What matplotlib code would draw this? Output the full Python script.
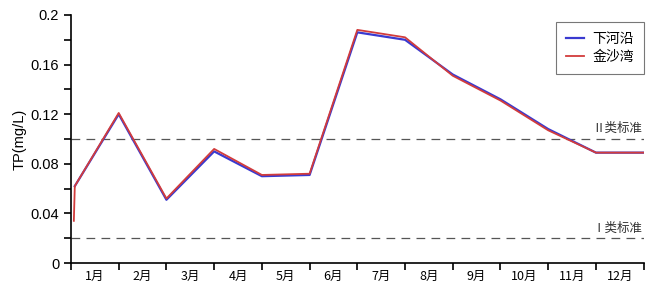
import numpy as np
import matplotlib.pyplot as plt
from matplotlib.ticker import MultipleLocator

plt.rcParams['font.family'] = ['Noto Sans CJK SC', 'DejaVu Sans']

months = ['1月', '2月', '3月', '4月', '5月', '6月', '7月', '8月', '9月', '10月', '11月', '12月']

# sampling positions along the month axis
x_blue = [0.08, 1, 2, 3, 4, 5, 6, 7, 8, 9, 10, 11, 12]
tp_xiaheyan = [0.062, 0.120, 0.051, 0.090, 0.070, 0.071, 0.186, 0.180, 0.152, 0.132, 0.108, 0.089, 0.089]
x_red = [0.06, 0.08, 1, 2, 3, 4, 5, 6, 7, 8, 9, 10, 11, 12]
tp_jinshawan = [0.034, 0.062, 0.121, 0.052, 0.092, 0.071, 0.072, 0.188, 0.182, 0.151, 0.131, 0.107, 0.089, 0.089]

class2 = 0.1
class1 = 0.02

fig = plt.figure(figsize=(6.53, 2.86), dpi=100)
ax = fig.add_axes([0.1087, 0.0804, 0.877, 0.8672])

ax.axhline(class2, color='#555555', lw=0.9, dashes=(7, 5))
ax.axhline(class1, color='#555555', lw=0.9, dashes=(7, 5))
ax.text(11.98, class2 + 0.003, 'Ⅱ类标准', ha='right', va='bottom', fontsize=9, color='#333333')
ax.text(11.98, class1 + 0.003, 'Ⅰ类标准', ha='right', va='bottom', fontsize=9, color='#333333')

ax.plot(x_blue, tp_xiaheyan, color='#3a3ad0', lw=1.6, label='下河沿')
ax.plot(x_red, tp_jinshawan, color='#d23c3c', lw=1.3, label='金沙湾')

ax.set_xlim(0, 12)
ax.set_ylim(0, 0.2)
ax.set_yticks([0, 0.04, 0.08, 0.12, 0.16, 0.2])
ax.set_yticklabels(['0', '0.04', '0.08', '0.12', '0.16', '0.2'], family='Liberation Sans')
ax.yaxis.set_minor_locator(MultipleLocator(0.02))
ax.set_xticks(np.arange(0, 13))
ax.set_xticklabels([])
ax.set_xticks(np.arange(12) + 0.5, minor=True)
ax.set_xticklabels(months, minor=True)
ax.tick_params(axis='x', which='minor', length=0, pad=5, labelsize=9)
ax.tick_params(axis='x', which='major', length=5, width=1.2, direction='out')
ax.tick_params(axis='y', which='both', length=5, width=1.2, direction='out', labelsize=10.5)
ax.set_ylabel('TP(mg/L)', fontsize=10.5, labelpad=3, family='Liberation Sans')

for s in ['top', 'right']:
    ax.spines[s].set_visible(False)
for s in ['left', 'bottom']:
    ax.spines[s].set_linewidth(1.2)

leg = ax.legend(loc='upper right', bbox_to_anchor=(1.012, 1.0), fontsize=10, frameon=True,
                fancybox=False, edgecolor='#555555', handlelength=1.3, borderpad=0.7,
                labelspacing=0.3, handletextpad=0.6)
leg.get_frame().set_linewidth(0.8)

fig.savefig('out.png', dpi=100)
